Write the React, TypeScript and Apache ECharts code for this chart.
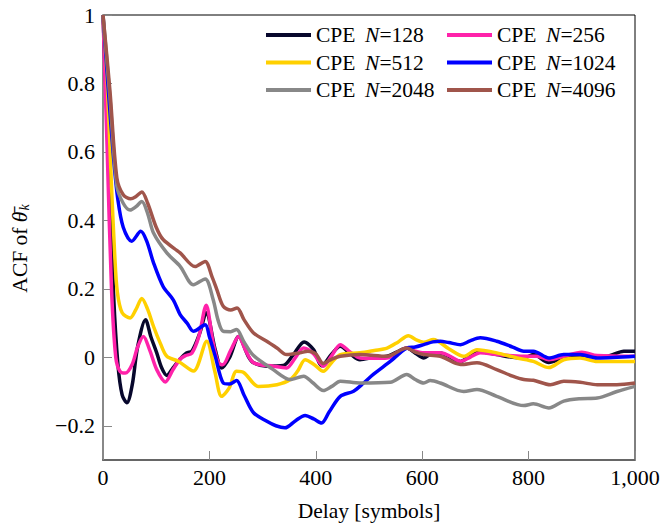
import React, { useEffect, useRef } from "react";
import * as echarts from "echarts";

const seriesNames = ["CPE N=128", "CPE N=256", "CPE N=512", "CPE N=1024", "CPE N=2048", "CPE N=4096"];
const seriesColors = ["#07072c", "#ff22aa", "#ffd000", "#0000ff", "#888888", "#a0554b"];

const delay128 = [0, 10, 20, 28, 36, 45, 55, 65, 80, 90, 101, 110, 120, 132, 145, 157, 167, 182, 194, 211, 223, 238, 255, 273, 283, 308, 339, 358, 378, 396, 411, 430, 446, 465, 483, 510, 534, 552, 571, 587, 603, 621, 640, 672, 703, 740, 770, 791, 809, 838, 866, 897, 947, 979, 1000];
const acf128 = [1, 0.6, 0.18, -0.02, -0.11, -0.133, -0.08, 0.03, 0.11, 0.06, 0.013, -0.03, -0.053, -0.03, -0.005, 0.013, 0.018, 0.071, 0.13, 0.022, -0.031, 0.0, 0.061, 0.003, -0.016, -0.026, -0.024, 0.008, 0.045, 0.022, -0.025, 0.01, 0.032, 0.01, -0.007, 0.0, 0.003, 0.015, 0.027, 0.012, -0.002, 0.013, 0.01, -0.012, 0.018, 0.008, 0.0, -0.002, 0.008, -0.015, -0.002, 0.003, 0.003, 0.018, 0.018];

const delay256 = [0, 8, 16, 24, 32, 42, 55, 65, 76, 88, 101, 117, 132, 145, 155, 167, 180, 194, 207, 217, 225, 240, 255, 268, 283, 320, 345, 362, 377, 396, 414, 430, 446, 465, 483, 510, 534, 552, 571, 587, 603, 634, 650, 672, 690, 709, 740, 791, 816, 838, 866, 900, 929, 1000];
const acf256 = [1, 0.6, 0.2, 0.0, -0.041, -0.046, -0.02, 0.03, 0.061, 0.02, -0.036, -0.072, -0.035, -0.005, 0.005, 0.012, 0.06, 0.152, 0.042, -0.016, -0.022, 0.02, 0.061, 0.02, -0.016, -0.026, -0.031, 0.0, 0.027, 0.01, -0.026, 0.005, 0.037, 0.015, -0.002, -0.003, -0.002, 0.012, 0.027, 0.018, 0.013, 0.013, 0.005, -0.012, 0.0, 0.013, 0.008, 0.003, 0.003, -0.007, 0.003, 0.015, 0.005, 0.003];

const delay512 = [0, 8, 16, 22, 27, 36, 51, 62, 73, 84, 95, 108, 120, 142, 170, 195, 210, 223, 237, 251, 265, 292, 327, 352, 366, 380, 396, 414, 430, 446, 483, 510, 534, 555, 574, 590, 603, 621, 650, 678, 703, 740, 778, 809, 838, 866, 897, 929, 1000];
const acf512 = [1, 0.8, 0.5, 0.3, 0.19, 0.13, 0.115, 0.14, 0.172, 0.14, 0.09, 0.04, 0.003, -0.012, -0.04, 0.047, -0.04, -0.114, -0.09, -0.041, -0.045, -0.085, -0.08, -0.065, -0.04, -0.007, -0.02, -0.041, -0.015, 0.008, 0.013, 0.02, 0.027, 0.045, 0.063, 0.05, 0.044, 0.052, 0.025, 0.003, 0.022, 0.013, -0.002, -0.012, -0.03, -0.007, -0.002, -0.012, -0.012];

const delay1024 = [0, 10, 20, 28, 38, 54, 71, 82, 95, 113, 132, 145, 158, 170, 192, 200, 211, 226, 238, 251, 265, 283, 308, 325, 342, 362, 380, 396, 411, 425, 446, 471, 490, 508, 540, 571, 587, 603, 620, 634, 650, 672, 690, 709, 740, 770, 791, 809, 838, 866, 897, 929, 1000];
const acf1024 = [1, 0.78, 0.58, 0.46, 0.38, 0.339, 0.368, 0.34, 0.276, 0.207, 0.168, 0.125, 0.1, 0.076, 0.095, 0.06, 0.003, -0.075, -0.078, -0.068, -0.11, -0.162, -0.187, -0.2, -0.206, -0.185, -0.17, -0.18, -0.192, -0.16, -0.114, -0.099, -0.075, -0.05, -0.012, 0.027, 0.03, 0.037, 0.045, 0.047, 0.043, 0.037, 0.048, 0.057, 0.047, 0.03, 0.018, 0.018, -0.002, 0.008, 0.008, -0.002, 0.003];

const delay2048 = [0, 13, 26, 38, 51, 62, 73, 84, 95, 120, 145, 170, 192, 207, 216, 226, 240, 251, 265, 283, 320, 352, 377, 395, 414, 430, 446, 483, 540, 571, 587, 603, 615, 634, 678, 703, 740, 791, 809, 838, 866, 897, 929, 966, 1000];
const acf2048 = [1, 0.76, 0.5, 0.45, 0.43, 0.44, 0.455, 0.42, 0.363, 0.305, 0.266, 0.212, 0.229, 0.169, 0.11, 0.076, 0.075, 0.081, 0.045, 0.005, -0.036, -0.065, -0.055, -0.075, -0.097, -0.085, -0.07, -0.075, -0.073, -0.05, -0.065, -0.075, -0.068, -0.075, -0.1, -0.094, -0.114, -0.141, -0.136, -0.148, -0.128, -0.121, -0.119, -0.1, -0.085];

const delay4096 = [0, 13, 26, 38, 52, 62, 73, 84, 100, 113, 145, 173, 192, 205, 214, 226, 240, 252, 265, 283, 310, 327, 345, 370, 385, 400, 414, 430, 446, 483, 534, 571, 587, 603, 634, 672, 703, 740, 770, 791, 809, 841, 866, 897, 929, 966, 1000];
const acf4096 = [1, 0.78, 0.525, 0.475, 0.463, 0.47, 0.483, 0.45, 0.38, 0.344, 0.305, 0.265, 0.28, 0.235, 0.198, 0.149, 0.138, 0.144, 0.11, 0.071, 0.045, 0.027, 0.008, 0.013, 0.018, 0.01, -0.018, -0.005, 0.003, 0.008, 0.003, 0.027, 0.015, 0.008, 0.003, -0.021, -0.016, -0.036, -0.055, -0.065, -0.067, -0.08, -0.07, -0.073, -0.08, -0.08, -0.075];

const xTicks = [0, 200, 400, 600, 800, 1000];

const delays = [delay128, delay256, delay512, delay1024, delay2048, delay4096];
const acfs = [acf128, acf256, acf512, acf1024, acf2048, acf4096];

const FONT = "'Liberation Serif', 'DejaVu Serif', serif";

export default function App() {
  const ref = useRef<HTMLDivElement>(null);
  useEffect(() => {
    if (!ref.current) return;
    const chart = echarts.init(ref.current, null, { renderer: "svg" });
    const legendText = {
      fontFamily: FONT,
      fontSize: 21.5,
      color: "#000",
      lineHeight: 22,
      rich: { i: { fontFamily: FONT, fontSize: 21.5, fontStyle: "italic", color: "#000", lineHeight: 22 } },
    };
    const legendCommon = {
      orient: "vertical",
      top: 24,
      itemWidth: 45,
      itemHeight: 4,
      itemGap: 5.5,
      icon: "rect",
      padding: 0,
      textStyle: legendText,
      formatter: (name: string) => name.replace("CPE N", "CPE\u2009 {i|N}"),
    };
    chart.setOption({
      animation: false,
      backgroundColor: "#fff",
      grid: {
        left: 103,
        right: 27,
        top: 15,
        bottom: 65,
        containLabel: false,
        outerBoundsMode: "none",
        show: true,
        borderColor: "#000",
        borderWidth: 1,
      },
      legend: [
        { ...legendCommon, left: 266, data: [seriesNames[0], seriesNames[2], seriesNames[4]] },
        { ...legendCommon, left: 447, data: [seriesNames[1], seriesNames[3], seriesNames[5]] },
      ],
      xAxis: {
        type: "value",
        min: xTicks[0],
        max: xTicks[xTicks.length - 1],
        interval: 200,
        name: "Delay [symbols]",
        nameLocation: "middle",
        nameGap: 40,
        nameTextStyle: { fontFamily: FONT, fontSize: 21.5, color: "#000", lineHeight: 22 },
        axisLine: { show: true, onZero: false, lineStyle: { color: "#666", width: 2 } },
        axisTick: { show: true, inside: true, length: 9, lineStyle: { color: "#888" } },
        axisLabel: {
          margin: 6,
          fontFamily: FONT,
          fontSize: 22,
          color: "#000",
          formatter: (v: number) => (v === 1000 ? "1,000" : String(v)),
        },
        splitLine: { show: false },
      },
      yAxis: {
        type: "value",
        min: -0.3,
        max: 1,
        splitNumber: 6,
        minInterval: 0.2,
        maxInterval: 0.2,
        name: "ACF of {t|\u03B8\u0304}{k|k}",
        nameLocation: "middle",
        nameGap: 72,
        nameRotate: 90,
        nameTextStyle: {
          fontFamily: FONT,
          fontSize: 21.5,
          color: "#000",
          padding: [0, 22, 0, 0],
          rich: {
            t: { fontFamily: FONT, fontSize: 21.5, fontStyle: "italic", color: "#000" },
            k: { fontFamily: FONT, fontSize: 14, fontStyle: "italic", color: "#000", padding: [9, 0, 0, 1] },
          },
        },
        axisLine: { show: true, onZero: false, lineStyle: { color: "#888", width: 2 } },
        axisTick: { show: true, inside: true, length: 9, lineStyle: { color: "#888" } },
        axisLabel: {
          margin: 8,
          showMinLabel: false,
          fontFamily: FONT,
          fontSize: 22,
          color: "#000",
          formatter: (v: number) => {
            const r = Math.round(v * 10) / 10;
            if (Math.abs(r - v) > 1e-6) return "";
            if (r < 0) return "\u2212" + String(-r);
            return String(r);
          },
        },
        splitLine: { show: false },
      },
      series: seriesNames.map((name, i) => ({
        name,
        type: "line",
        data: delays[i].map((d, j) => [d, acfs[i][j]]),
        showSymbol: false,
        symbol: "none",
        smooth: 0.3,
        color: seriesColors[i],
        lineStyle: { width: 3.5, color: seriesColors[i] },
        z: 2 + i,
      })),
    });
    return () => chart.dispose();
  }, []);
  return (
    <div
      ref={ref}
      style={{ position: "fixed", left: 0, top: 0, width: 662, height: 525, background: "#fff" }}
    />
  );
}
